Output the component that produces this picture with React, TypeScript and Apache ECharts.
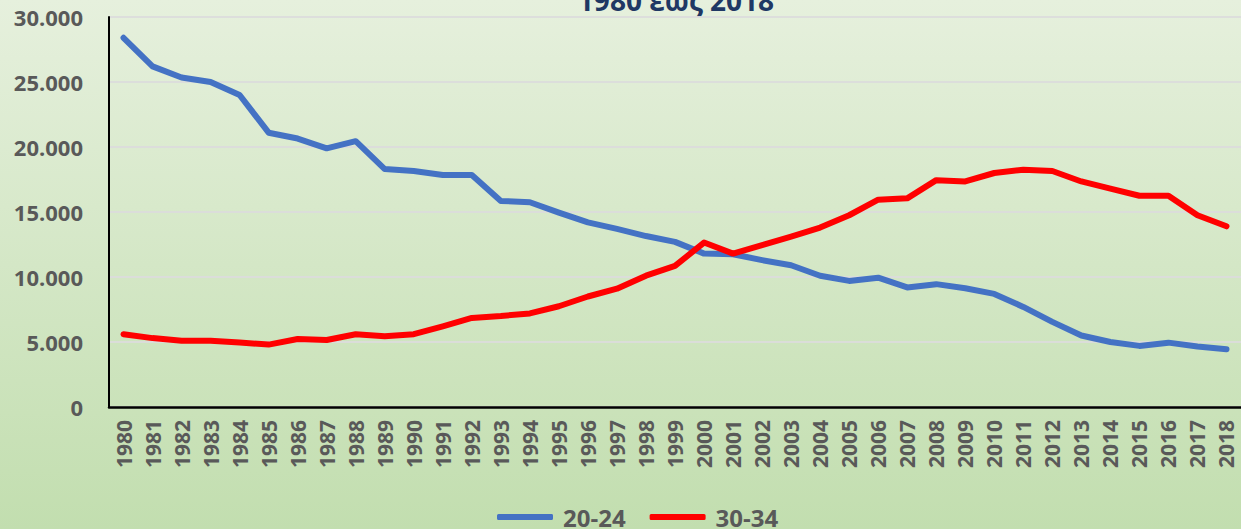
import React, { useEffect, useRef } from "react";
import * as echarts from "echarts";

const years: string[] = [];
for (let y = 1980; y <= 2018; y++) years.push(String(y));

const seriesNames = ["20-24", "30-34"];

const age2024 = [
  28400, 26200, 25350, 25000, 24000, 21100, 20650, 19900, 20450, 18300,
  18150, 17850, 17850, 15850, 15750, 14950, 14200, 13700, 13150, 12700,
  11800, 11750, 11300, 10900, 10100, 9700, 9950, 9200, 9450, 9130,
  8700, 7700, 6550, 5500, 5000, 4700, 4950, 4650, 4450,
];

const age3034 = [
  5600, 5300, 5100, 5100, 4970, 4800, 5230, 5150, 5600, 5450,
  5600, 6200, 6850, 7000, 7200, 7750, 8500, 9100, 10100, 10850,
  12650, 11800, 12450, 13100, 13800, 14750, 15950, 16050, 17450, 17350,
  18000, 18250, 18150, 17350, 16800, 16250, 16250, 14750, 13900,
];

const titleText = "1980 έως 2018";
const FONT = "'Open Sans', 'Noto Sans', sans-serif";
const GRAY = "#595959";

export default function App() {
  const ref = useRef<HTMLDivElement>(null);
  useEffect(() => {
    if (!ref.current) return;
    const chart = echarts.init(ref.current, undefined, { renderer: "svg" });
    chart.setOption({
      animation: false,
      backgroundColor: new echarts.graphic.LinearGradient(0, 0, 0, 1, [
        { offset: 0, color: "#E6F0DD" },
        { offset: 1, color: "#C2DEAF" },
      ]),
      textStyle: { fontFamily: FONT },
      graphic: [
        {
          type: "text",
          x: 676,
          y: 14,
          style: {
            text: titleText,
            fill: "#1F3864",
            font: `bold 28px ${FONT}`,
            textAlign: "center",
            textVerticalAlign: "bottom",
          },
        },
      ],
      legend: {
        left: 497,
        top: 505,
        itemWidth: 56,
        itemHeight: 6,
        itemGap: 24,
        padding: 0,
        icon: "roundRect",
        data: seriesNames,
        textStyle: {
          fontFamily: FONT,
          fontSize: 24,
          fontWeight: "bold",
          color: GRAY,
          padding: [0, 0, 0, 5],
        },
      },
      grid: {
        left: 109,
        top: 17,
        width: 1143,
        height: 390,
        containLabel: false,
      },
      xAxis: {
        type: "category",
        data: years,
        boundaryGap: true,
        axisLine: { show: true, lineStyle: { color: "#000", width: 2.5 } },
        axisTick: { show: false },
        axisLabel: {
          interval: 0,
          rotate: 90,
          margin: 13,
          fontFamily: FONT,
          fontSize: 21,
          fontWeight: "bold",
          color: GRAY,
        },
        splitLine: { show: false },
      },
      yAxis: {
        type: "value",
        min: 0,
        max: 30000,
        interval: 5000,
        axisLine: { show: true, lineStyle: { color: "#000", width: 2 } },
        axisTick: { show: false },
        axisLabel: {
          margin: 26,
          fontFamily: FONT,
          fontSize: 22,
          fontWeight: "bold",
          color: GRAY,
          formatter: (v: number) =>
            v === 0 ? "0" : (v / 1000).toFixed(0) + ".000",
        },
        splitLine: { lineStyle: { color: "rgba(220,220,220,0.9)", width: 2 } },
      },
      series: [
        {
          name: seriesNames[0],
          type: "line",
          data: age2024,
          symbol: "none",
          lineStyle: { color: "#4472C4", width: 6, cap: "round", join: "round" },
          itemStyle: { color: "#4472C4" },
        },
        {
          name: seriesNames[1],
          type: "line",
          data: age3034,
          symbol: "none",
          lineStyle: { color: "#FF0000", width: 6, cap: "round", join: "round" },
          itemStyle: { color: "#FF0000" },
        },
      ],
    });
    return () => chart.dispose();
  }, []);
  return (
    <div
      ref={ref}
      style={{ position: "fixed", left: 0, top: 0, width: 1241, height: 529 }}
    />
  );
}
